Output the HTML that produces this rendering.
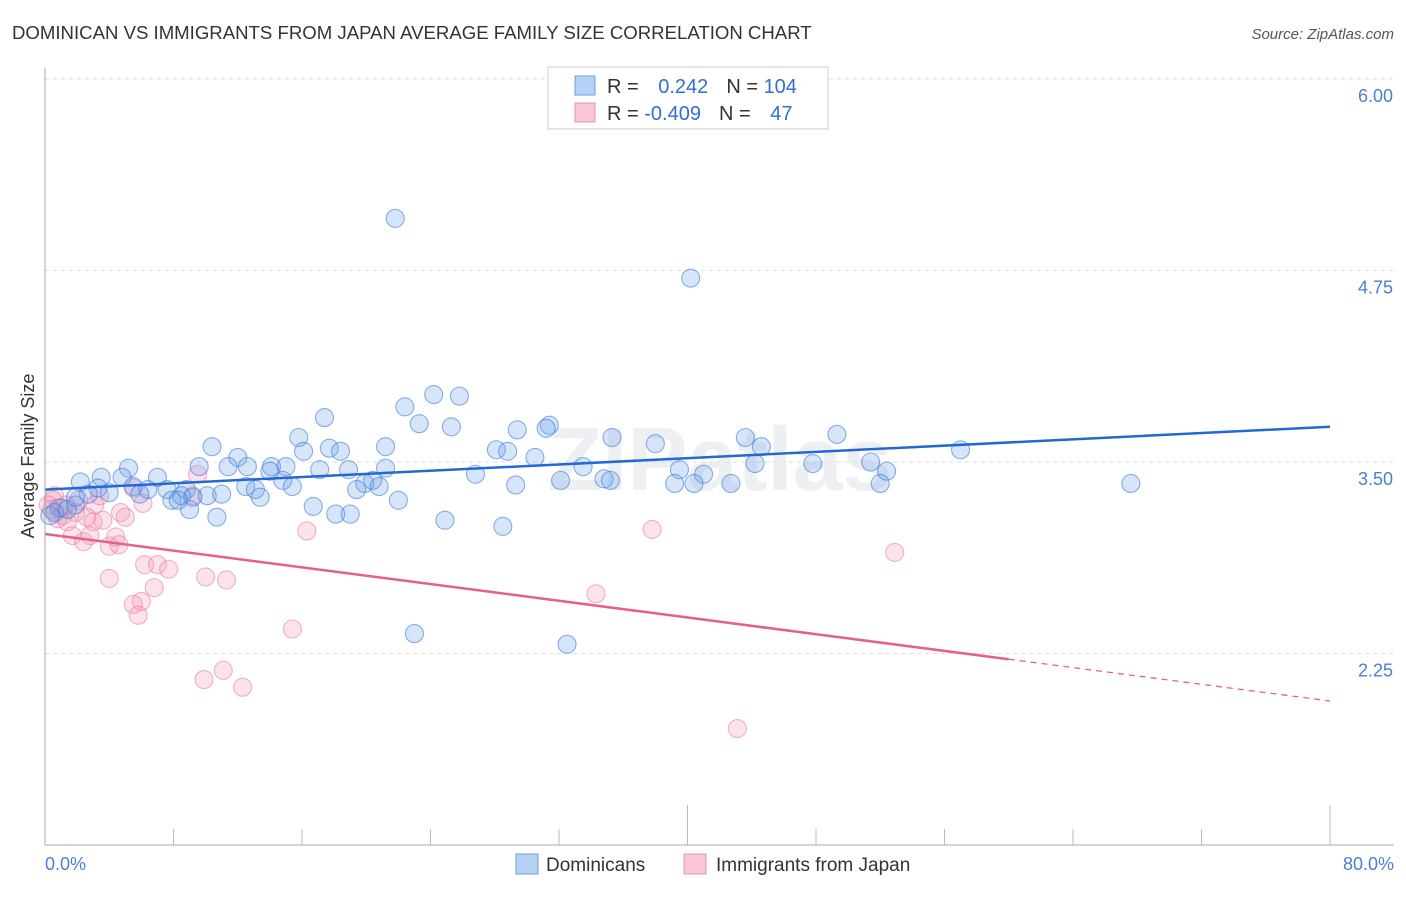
<!DOCTYPE html>
<html><head><meta charset="utf-8">
<style>
body{margin:0;background:#fff;font-family:"Liberation Sans",sans-serif;}
svg text{font-family:"Liberation Sans",sans-serif;}
</style></head>
<body>
<svg id="chart" width="1406" height="892">
<text x="12" y="39" font-size="18.6" fill="#333">DOMINICAN VS IMMIGRANTS FROM JAPAN AVERAGE FAMILY SIZE CORRELATION CHART</text>
<text x="1394" y="39" font-size="15" fill="#555" text-anchor="end" font-style="italic">Source: ZipAtlas.com</text>
<text x="34" y="456" font-size="18" fill="#333" text-anchor="middle" transform="rotate(-90 34 456)">Average Family Size</text>
<text x="720" y="490" font-size="90" fill="#e6e9ef" text-anchor="middle" font-weight="bold" opacity="0.7">ZIPatlas</text>
<g id="grid"></g><g id="marks"></g>
<line x1="45" y1="845" x2="1394" y2="845" stroke="#aaa"/>
<line x1="45" y1="68" x2="45" y2="845" stroke="#aaa"/>
<text x="45" y="870" font-size="18" fill="#4a7fd4">0.0%</text>
<text x="1394" y="870" font-size="18" fill="#4a7fd4" text-anchor="end">80.0%</text>
<rect x="516" y="854" width="22" height="20" fill="#b7d1f5" stroke="#6a9ee0"/>
<text x="546" y="871" font-size="19" fill="#333">Dominicans</text>
<rect x="684" y="854" width="22" height="20" fill="#f8c6d5" stroke="#e892ad"/>
<text x="716" y="871" font-size="19" fill="#333">Immigrants from Japan</text>
<g>
<rect x="548" y="67" width="280" height="62" fill="#fff" stroke="#ccc"/>
<rect x="575" y="76" width="20" height="19" fill="#b7d1f5" stroke="#6a9ee0"/>
<rect x="575" y="103" width="20" height="19" fill="#f8c6d5" stroke="#e892ad"/>
<text x="607" y="93" font-size="20" fill="#333">R = <tspan fill="#2f6fd6" dx="14">0.242</tspan><tspan fill="#333" dx="18">N = </tspan><tspan fill="#2f6fd6">104</tspan></text>
<text x="607" y="120" font-size="20" fill="#333">R = <tspan fill="#2f6fd6">-0.409</tspan><tspan fill="#333" dx="18">N = </tspan><tspan fill="#2f6fd6" dx="14">47</tspan></text>
</g>
</svg>
<script>
const yTicks=[6.00,4.75,3.50,2.25];
const xTickVals=[0,8,16,24,32,40,48,56,64,72,80];
const domX=[21.8,40.2,24.2,25.8,22.4,17.4,23.3,25.3,31.4,29.4,31.2,15.8,35.3,43.6,49.3,10.4,17.7,21.2,28.1,38.0,44.6,57.0,16.1,18.4,12.0,30.5,28.8,9.6,11.4,12.6,14.1,15.0,5.2,14.0,17.1,18.9,21.2,33.5,44.2,47.8,51.4,39.5,52.4,3.5,4.8,7.0,26.8,41.0,20.4,32.1,34.8,35.2,42.7,2.2,3.3,5.5,6.4,7.6,14.8,15.4,12.5,13.1,19.9,20.8,19.4,29.3,39.2,40.4,52.0,67.6,4.0,5.9,8.8,2.7,8.5,9.2,10.1,11.0,13.4,7.9,8.3,1.9,0.9,16.7,22.0,9.0,10.7,18.1,19.0,24.9,28.5,0.6,0.3,23.0,32.5,1.4,1.9];
const domY=[5.09,4.70,3.94,3.93,3.86,3.79,3.75,3.73,3.74,3.71,3.72,3.66,3.66,3.66,3.68,3.60,3.59,3.60,3.58,3.62,3.60,3.58,3.57,3.57,3.53,3.53,3.57,3.47,3.47,3.47,3.47,3.47,3.46,3.44,3.45,3.45,3.46,3.47,3.49,3.49,3.50,3.45,3.44,3.40,3.40,3.40,3.42,3.42,3.38,3.38,3.39,3.38,3.36,3.37,3.33,3.34,3.32,3.32,3.38,3.34,3.34,3.32,3.36,3.34,3.32,3.35,3.36,3.36,3.36,3.36,3.30,3.29,3.32,3.29,3.28,3.27,3.28,3.29,3.27,3.25,3.25,3.22,3.20,3.21,3.25,3.19,3.14,3.16,3.16,3.12,3.08,3.17,3.15,2.38,2.31,3.19,3.27];
const japX=[0.6,0.5,0.4,0.8,1.1,1.9,1.4,3.1,3.4,2.6,3.0,3.6,4.7,5.0,6.1,5.5,9.5,9.2,1.7,2.4,2.8,4.0,4.4,4.6,6.2,7.0,7.7,4.0,10.0,11.3,6.8,6.0,5.5,5.8,16.3,37.8,52.9,34.3,15.4,11.1,9.9,12.3,43.1,1.1,0.2,1.3,2.1];
const japY=[3.28,3.25,3.19,3.13,3.15,3.17,3.11,3.22,3.28,3.14,3.11,3.12,3.17,3.14,3.23,3.33,3.42,3.28,3.02,2.98,3.02,2.95,3.01,2.96,2.83,2.83,2.80,2.74,2.75,2.73,2.68,2.59,2.57,2.50,3.05,3.06,2.91,2.64,2.41,2.14,2.08,2.03,1.76,3.20,3.22,3.22,3.25];
const domLine=[3.32,3.73];
const japLine=[3.03,1.94];
const japSolidEnd=60;
const X=v=>45+v/80*1285;
const Y=v=>462-(v-3.5)*153.2;
const NS='http://www.w3.org/2000/svg';
function mk(tag,at,par){const e=document.createElementNS(NS,tag);for(const k in at)e.setAttribute(k,at[k]);par.appendChild(e);return e;}
const grid=document.getElementById('grid'),marks=document.getElementById('marks');
yTicks.forEach(t=>{
 const l=mk('line',{x1:45,x2:1394,y1:Y(t),y2:Y(t),stroke:'#ddd','stroke-dasharray':'4,4'},grid);
 
 
 const tx=mk('text',{x:1393,y:Y(t)+23,'font-size':18,fill:'#4a7fd4','text-anchor':'end'},grid);
 tx.textContent=t.toFixed(2);
 
 
});
xTickVals.forEach((t,i)=>{
 const long=(i===5||i===10);
 const l=mk('line',{x1:X(t),x2:X(t),y1:long?805:829,y2:845,stroke:'#bbb'},grid);
 
 
});
function pts(xs,ys,fill,stroke,name){
 xs.forEach((x,i)=>{
  const c=mk('circle',{cx:X(x),cy:Y(ys[i]),r:9,fill:fill,stroke:stroke,'stroke-width':1.1},marks);
  
  
 });
}
pts(japX,japY,'rgba(244,150,180,0.28)','rgba(232,130,165,0.6)','japan-point');
pts(domX,domY,'rgba(110,160,235,0.28)','rgba(60,125,220,0.6)','dominican-point');
let l=mk('line',{x1:X(0),y1:Y(domLine[0]),x2:X(80),y2:Y(domLine[1]),stroke:'#2468d4','stroke-width':2.5},marks);


const jy=x=>japLine[0]+(japLine[1]-japLine[0])*x/80;
l=mk('line',{x1:X(0),y1:Y(jy(0)),x2:X(japSolidEnd),y2:Y(jy(japSolidEnd)),stroke:'#e5608e','stroke-width':2.5},marks);


l=mk('line',{x1:X(japSolidEnd),y1:Y(jy(japSolidEnd)),x2:X(80),y2:Y(jy(80)),stroke:'#e5608e','stroke-width':1.3,'stroke-dasharray':'6,5'},marks);


</script>
</body></html>
